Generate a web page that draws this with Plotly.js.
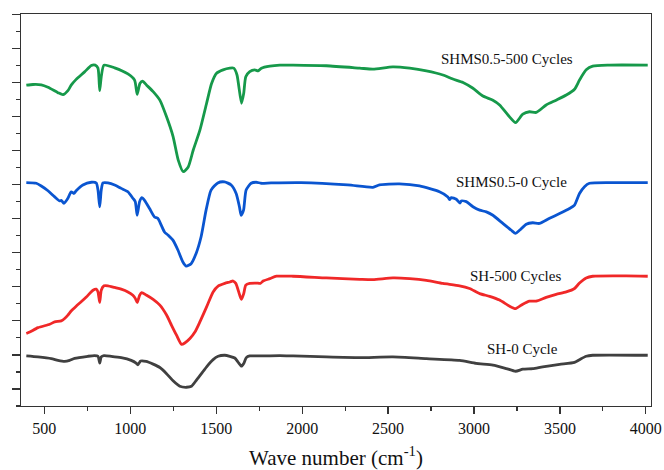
<!DOCTYPE html>
<html>
<head>
<meta charset="utf-8">
<script src="https://cdn.plot.ly/plotly-3.0.1.min.js"></script>
<style>html,body{margin:0;padding:0;background:#fff;}#chart{width:664px;height:470px;}</style>
</head>
<body>
<div id="chart"></div>
<script>
// Wavenumbers (cm^-1) and transmittance (a.u., offset stacks)
const green_x = [395,434,482,521,579,608,637,656,685,734,773,796,812,822,831,847,909,986,1025,1040,1056,1071,1095,1133,1172,1211,1249,1279,1308,1337,1366,1405,1444,1473,1502,1540,1579,1602,1621,1647,1660,1672,1695,1724,1744,1763,1812,1870,1947,2141,2335,2412,2528,2626,2723,2819,2877,2936,2994,3052,3110,3149,3207,3242,3284,3323,3362,3420,3478,3537,3585,3614,3653,3691,3788,4011];
const green_y = [94.2,94.4,94.3,93.6,92.0,91.4,92.6,94.2,95.9,98.1,100.0,100.1,99.2,92.6,96.7,100.1,99.3,97.5,95.7,91.5,94.7,95.4,94.2,92.3,89.8,84.9,79.1,72.2,68.8,70.2,75.1,81.0,88.9,94.7,97.7,98.7,99.2,99.2,97.2,88.9,91.8,96.7,98.2,98.7,98.4,99.2,99.8,100.1,100.1,99.9,99.2,98.9,99.6,99.2,98.4,97.2,96.0,95.0,93.3,91.0,89.8,88.4,84.9,83.2,85.7,86.4,86.2,88.4,89.8,91.3,93.0,95.7,98.7,99.8,100.1,100.1];

const blue_x = [395,453,482,521,560,589,598,614,637,656,672,685,724,773,802,812,822,831,841,870,909,947,986,1015,1029,1040,1054,1067,1083,1112,1141,1160,1180,1199,1219,1248,1277,1306,1325,1354,1383,1412,1441,1470,1509,1548,1587,1616,1635,1645,1659,1674,1703,1732,1761,1819,1994,2265,2412,2450,2566,2683,2799,2848,2858,2868,2897,2918,2926,2955,2994,3033,3072,3110,3168,3217,3242,3265,3304,3342,3381,3440,3498,3556,3585,3614,3643,3672,3808,4011];
const blue_y = [65.6,65.4,64.6,63.2,61.4,60.2,60.4,59.5,61.0,62.9,62.4,63.2,64.9,65.7,65.5,63.4,58.5,63.4,65.5,65.5,64.9,63.9,62.9,61.0,60.0,56.0,60.0,61.2,60.4,58.0,55.5,55.1,53.1,51.1,50.2,48.7,45.8,42.3,41.1,41.8,44.8,49.7,57.5,63.4,65.5,65.8,64.9,62.4,58.5,56.0,57.5,63.4,65.4,65.7,65.4,65.5,65.6,64.9,64.2,64.9,65.2,64.6,62.9,61.4,60.6,61.2,60.7,59.6,60.2,60.0,58.5,57.5,57.0,56.0,53.6,51.6,50.7,51.6,53.4,53.8,53.6,55.1,56.5,58.0,59.0,62.4,64.4,65.4,65.6,65.6];

const red_x = [395,415,463,531,560,598,618,637,656,685,714,744,783,802,812,822,831,847,870,909,947,986,1015,1029,1040,1054,1066,1095,1133,1172,1211,1240,1269,1298,1317,1347,1376,1405,1444,1482,1511,1550,1579,1598,1614,1637,1647,1660,1672,1695,1734,1757,1773,1812,1851,1947,2141,2335,2412,2528,2626,2723,2819,2916,2974,3033,3091,3149,3207,3242,3284,3323,3362,3420,3478,3537,3585,3614,3653,3691,3885,4011];
const red_y = [21.3,21.7,23.0,24.0,24.7,25.0,25.7,26.7,27.9,29.3,30.6,32.0,34.0,34.3,33.5,30.4,34.0,35.3,35.3,34.8,34.3,33.5,32.5,31.6,30.4,32.5,33.3,32.5,31.3,29.6,26.7,23.7,20.8,18.1,18.5,19.8,21.7,24.7,29.1,33.5,35.2,36.0,36.4,36.7,36.0,32.5,31.3,33.0,35.5,36.0,36.1,36.0,36.7,37.4,38.1,38.1,37.6,37.2,37.1,37.6,37.4,36.9,36.0,35.3,34.5,33.0,32.2,31.1,29.3,28.6,29.9,30.8,30.8,31.9,32.8,33.5,34.5,36.1,37.6,38.1,38.2,38.1];

const black_x = [395,463,540,579,618,647,676,753,792,812,822,831,847,889,947,1005,1034,1044,1060,1092,1133,1172,1211,1249,1288,1327,1356,1385,1414,1444,1482,1511,1550,1579,1608,1627,1647,1660,1675,1695,1773,1870,1947,2141,2335,2528,2723,2916,3013,3110,3188,3242,3284,3342,3400,3498,3585,3614,3653,3691,4011];
const black_y = [14.7,14.4,13.9,13.4,13.1,13.4,14.0,14.6,14.8,14.6,12.6,14.4,14.8,14.6,14.2,13.4,12.6,12.1,13.2,13.1,12.3,11.3,9.5,7.4,5.8,5.5,5.8,7.6,9.5,11.5,13.6,14.6,14.9,14.6,14.1,12.9,11.7,12.5,14.2,14.7,14.7,14.8,14.7,14.4,14.2,14.4,13.9,13.4,12.5,12.0,11.0,10.2,10.8,11.0,11.5,12.2,12.8,13.6,14.6,14.9,14.9];

const labels = ["SHMS0.5-500 Cycles","SHMS0.5-0 Cycle","SH-500 Cycles","SH-0 Cycle"];
const label_x = [3190,3218,3242,3280];
const label_y = [101.9,65.8,38.2,16.7];

const series = [
  {x: green_x, y: green_y, color: '#16994a'},
  {x: blue_x, y: blue_y, color: '#0a55d0'},
  {x: red_x, y: red_y, color: '#f02828'},
  {x: black_x, y: black_y, color: '#404040'}
];

const serif = '"Liberation Serif", "Times New Roman", serif';

const traces = series.map(s => ({
  x: s.x, y: s.y, type: 'scatter', mode: 'lines',
  line: {color: s.color, width: 2.8, shape: 'spline', smoothing: 0.6},
  hoverinfo: 'skip', showlegend: false
}));

const annotations = labels.map((t, i) => ({
  x: label_x[i], y: label_y[i], xref: 'x', yref: 'y', text: t, showarrow: false,
  font: {family: serif, size: 15, color: '#111'},
  xanchor: 'center', yanchor: 'middle'
}));

const layout = {
  width: 664, height: 470,
  margin: {l: 21, r: 13, t: 14, b: 64},
  paper_bgcolor: '#fff', plot_bgcolor: '#fff',
  showlegend: false,
  font: {family: serif, color: '#111'},
  xaxis: {
    range: [364, 4030], tick0: 0, dtick: 500,
    ticks: 'outside', ticklen: 7, tickwidth: 1.2, tickcolor: '#333',
    minor: {dtick: 250, ticks: 'outside', ticklen: 4, tickwidth: 1.2, tickcolor: '#333', showgrid: false},
    showline: true, mirror: true, linecolor: '#333', linewidth: 1.4,
    showgrid: false, zeroline: false,
    tickfont: {family: serif, size: 16, color: '#111'},
    title: {text: 'Wave number (cm<sup>-1</sup>)', standoff: 14,
      font: {family: serif, size: 21, color: '#111'}}
  },
  yaxis: {
    range: [0, 115.1], tick0: 5, dtick: 10,
    ticks: 'outside', ticklen: 8, tickwidth: 1.2, tickcolor: '#333',
    minor: {dtick: 5, ticks: 'outside', ticklen: 4, tickwidth: 1.2, tickcolor: '#333', showgrid: false},
    showticklabels: false,
    showline: true, mirror: true, linecolor: '#333', linewidth: 1.4,
    showgrid: false, zeroline: false
  },
  annotations: annotations
};

Plotly.newPlot('chart', traces, layout, {displayModeBar: false, staticPlot: true});
</script>
</body>
</html>
